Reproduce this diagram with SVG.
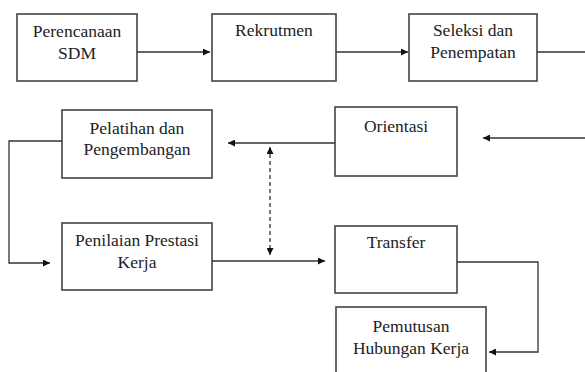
<svg xmlns="http://www.w3.org/2000/svg" width="585" height="372" viewBox="0 0 585 372">
<defs>
<marker id="ah" viewBox="0 0 10 10" refX="10" refY="5" markerWidth="9" markerHeight="7" markerUnits="userSpaceOnUse" orient="auto-start-reverse">
<path d="M0,0 L10,5 L0,10 z" fill="#111"/>
</marker>
<style>
.box{fill:#fff;stroke:#444;stroke-width:1.6}
text{font-family:'Liberation Serif','DejaVu Serif','Times New Roman',Times,serif;font-size:17.5px;fill:#222;text-anchor:middle}
.c{fill:none;stroke:#333;stroke-width:1.3}
</style>
</defs>
<rect width="585" height="372" fill="#fff"/>
<g id="n1"><rect class="box" x="17" y="14" width="120" height="67"/><text x="77" y="37" style="font-family:'Liberation Serif',serif">Perencanaan</text><text x="77" y="59" style="font-family:'Liberation Serif',serif">SDM</text></g>
<g id="n2"><rect class="box" x="212" y="14" width="124" height="67"/><text x="274" y="36" style="font-family:'Liberation Serif',serif">Rekrutmen</text></g>
<g id="n3"><rect class="box" x="409" y="14" width="128" height="67"/><text x="473" y="36" style="font-family:'Liberation Serif',serif">Seleksi dan</text><text x="473" y="58" style="font-family:'Liberation Serif',serif">Penempatan</text></g>
<g id="n4"><rect class="box" x="62" y="110" width="150" height="68"/><text x="137" y="134" style="font-family:'Liberation Serif',serif">Pelatihan dan</text><text x="137" y="155" style="font-family:'Liberation Serif',serif">Pengembangan</text></g>
<g id="n5"><rect class="box" x="335" y="107" width="122" height="69"/><text x="396" y="132" style="font-family:'Liberation Serif',serif">Orientasi</text></g>
<g id="n6"><rect class="box" x="62" y="223" width="150" height="67"/><text x="137" y="246" style="font-family:'Liberation Serif',serif">Penilaian Prestasi</text><text x="137" y="268" style="font-family:'Liberation Serif',serif">Kerja</text></g>
<g id="n7"><rect class="box" x="335" y="226" width="122" height="67"/><text x="396" y="248" style="font-family:'Liberation Serif',serif">Transfer</text></g>
<g id="n8"><rect class="box" x="336" y="307" width="150" height="80"/><text x="411" y="332" style="font-family:'Liberation Serif',serif">Pemutusan</text><text x="411" y="354" style="font-family:'Liberation Serif',serif">Hubungan Kerja</text></g>
<g id="connectors">
<path class="c" d="M137,52 H210" marker-end="url(#ah)"/>
<path class="c" d="M336,52 H408" marker-end="url(#ah)"/>
<path class="c" d="M537,52 H585"/>
<path class="c" d="M585,138 H483" marker-end="url(#ah)"/>
<path class="c" d="M335,143 H228" marker-end="url(#ah)"/>
<path class="c" d="M270,147 V255" stroke-dasharray="4,3" marker-start="url(#ah)" marker-end="url(#ah)"/>
<path class="c" d="M62,141 H9 V263 H50" marker-end="url(#ah)"/>
<path class="c" d="M212,261 H325" marker-end="url(#ah)"/>
<path class="c" d="M457,262 H538 V352 H489" marker-end="url(#ah)"/>
</g>
</svg>
